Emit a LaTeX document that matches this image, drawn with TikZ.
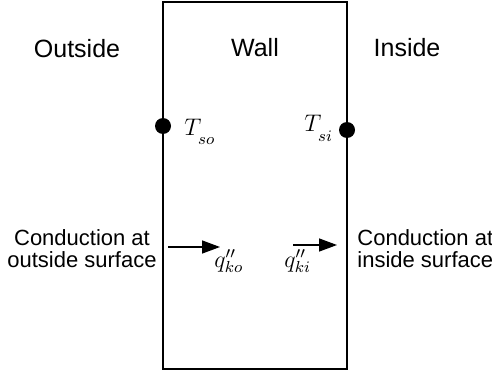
\documentclass[tikz,border=0pt]{standalone}
\usepackage{fontspec}
\setmainfont{Liberation Sans}
\usetikzlibrary{arrows.meta,positioning}

\begin{document}
\begin{tikzpicture}[x=0.5pt,y=-0.5pt,
  wallbox/.style={draw,line width=1pt},
  walltitle/.style={font=\fontsize{12.5}{15}\selectfont,anchor=base,inner sep=0pt},
  wallnote/.style={font=\fontsize{11}{11}\selectfont,align=center,anchor=base,inner sep=0pt},
  walldot/.style={circle,fill=black,minimum size=8pt,inner sep=0pt},
  wallvar/.style={font=\fontsize{12}{14}\selectfont,anchor=base west,inner sep=0pt},
  wallarr/.style={-{Triangle[length=9pt,width=6.5pt]},line width=0.75pt}
]
  \useasboundingbox (0,0) rectangle (492,374);
  % Wall cross-section
  \draw[wallbox] (163,2) rectangle (347,369);
  % Region titles
  \node[walltitle] (outside) at (77,58) {Outside};
  \node[walltitle] (wall) at (255,57) {Wall};
  \node[walltitle] (inside) at (407,57) {Inside};
  % Surface temperatures
  \node[walldot] (dotso) at (163,126) {};
  \node[walldot] (dotsi) at (347,130) {};
  \node[wallvar] (tso) at (184,135) {$T_{\lower3pt\hbox{$\scriptstyle so$}}$};
  \node[wallvar] (tsi) at (304,132) {$T_{\lower3pt\hbox{$\scriptstyle si$}}$};
  % Conduction fluxes
  \node[wallnote] (condo) at (82,267) {Conduction at\\outside surface};
  \node[wallnote,align=left,anchor=base west] (condi) at (357,267) {Conduction at\\inside surface};
  \coordinate (qkostart) at (168,247);
  \coordinate (qkoend) at (220,247);
  \coordinate (qkistart) at (293,245);
  \coordinate (qkiend) at (337,245);
  \draw[wallarr] (qkostart) -- (qkoend);
  \draw[wallarr] (qkistart) -- (qkiend);
  \node[wallvar] (qko) at (214,267) {$q''_{ko}$};
  \node[wallvar] (qki) at (284,267) {$q''_{ki}$};
\end{tikzpicture}
\end{document}
